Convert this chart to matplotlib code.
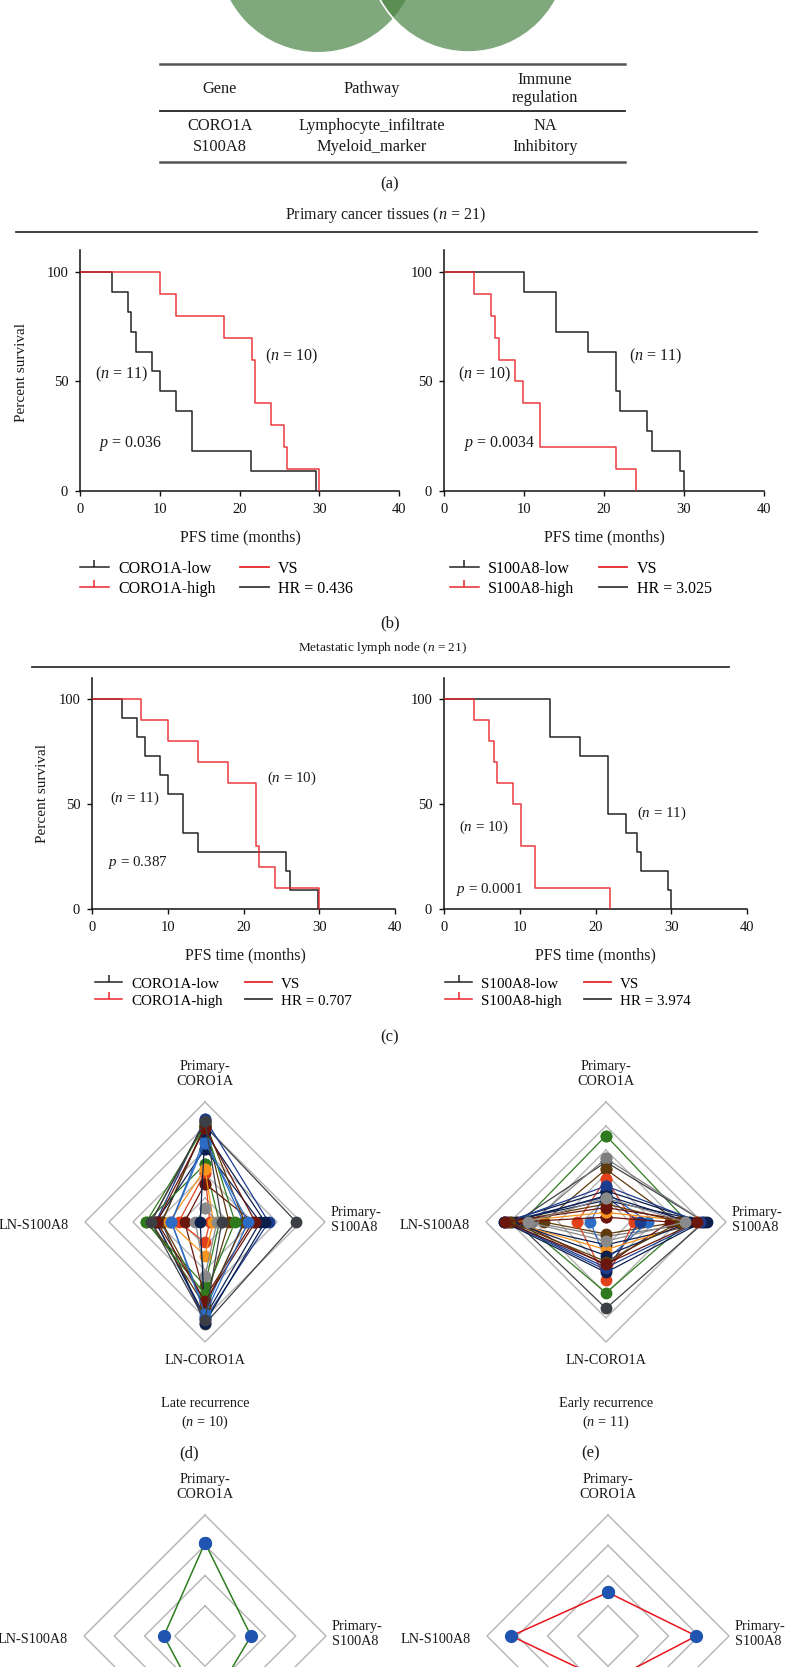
import numpy as np
import matplotlib
matplotlib.use("Agg")
import matplotlib.pyplot as plt
from matplotlib.patches import Circle
from matplotlib.lines import Line2D

plt.rcParams['font.family'] = ['Liberation Serif', 'DejaVu Serif']
plt.rcParams['mathtext.fontset'] = 'custom'
plt.rcParams['mathtext.rm'] = 'Liberation Serif'
plt.rcParams['mathtext.it'] = 'Liberation Serif:italic'

# -----------------------------
# Data
# -----------------------------
# (a) gene table
table_header = ['Gene', 'Pathway', 'Immune\nregulation']
genes = ['CORO1A', 'S100A8']
pathways = ['Lymphocyte_infiltrate', 'Myeloid_marker']
immune = ['NA', 'Inhibitory']

# (b) primary tumour, event times in months (no censoring)
b_coro_low = [4, 6, 6.4, 7, 9, 10, 12, 14, 14, 21.5, 29.6]
b_coro_high = [10, 12, 18, 21.6, 22, 22, 24, 25.6, 26, 30]
b_s100_low = [10, 14, 14, 18, 21.5, 21.5, 22, 25.4, 26, 29.5, 30]
b_s100_high = [3.8, 5.9, 6.4, 6.9, 8.9, 9.9, 12, 12, 21.5, 24]

# (c) lymph node
c_coro_low = [4, 6, 7, 9, 10, 12, 12, 14, 25.6, 26.2, 29.8]
c_coro_high = [6.5, 10, 14, 18, 21.7, 21.7, 21.7, 22.1, 24.2, 30]
c_s100_low = [14, 14, 18, 21.6, 21.6, 21.6, 24, 25.5, 26, 29.6, 30]
c_s100_high = [3.9, 5.9, 6.6, 7, 9.1, 10.1, 10.1, 12, 12, 21.9]

km_pvals = ['0.036', '0.0034', '0.387', '0.0001']
km_hr = ['0.436', '3.025', '0.707', '3.974']

# radar axes: top, right, bottom, left
radar_axes = ['Primary-\nCORO1A', 'Primary-\nS100A8', 'LN-CORO1A', 'LN-S100A8']

# (d) late recurrence, one row per patient
late_vals = [
    [0.80, 0.76, 0.85, 0.36], [0.86, 0.53, 0.81, 0.41], [0.81, 0.20, 0.67, 0.36],
    [0.61, 0.46, 0.79, 0.41], [0.48, 0.12, 0.53, 0.49], [0.41, 0.04, 0.17, 0.22],
    [0.32, 0.40, 0.63, 0.17], [0.44, 0.07, 0.28, 0.30], [0.12, 0.10, 0.45, 0.08],
    [0.70, 0.32, 0.74, 0.28], [0.83, 0.33, 0.70, 0.45], [0.75, 0.50, 0.84, 0.04],
    [0.80, 0.25, 0.60, 0.49], [0.78, 0.42, 0.66, 0.40], [0.66, 0.36, 0.77, 0.28],
    [0.84, 0.14, 0.82, 0.45],
]
late_colors = ['#3c3f45', '#1d3c8f', '#5e3a0c', '#0c1f4d', '#2f7a1f', '#e2421b',
               '#6b160c', '#f7941d', '#8a8a8a', '#2c6cc4', '#5e3a0c', '#0c1f4d',
               '#2f7a1f', '#6b160c', '#2c6cc4', '#3c3f45']

# (e) early recurrence
early_vals = [
    [0.72, 0.68, 0.59, 0.70], [0.50, 0.82, 0.72, 0.75], [0.53, 0.82, 0.12, 0.62],
    [0.44, 0.60, 0.10, 0.52], [0.36, 0.23, 0.48, 0.24], [0.25, 0.35, 0.32, 0.13],
    [0.21, 0.28, 0.40, 0.83], [0.18, 0.84, 0.19, 0.85], [0.04, 0.53, 0.36, 0.74],
    [0.08, 0.75, 0.23, 0.80], [0.26, 0.80, 0.42, 0.85], [0.30, 0.78, 0.38, 0.82],
    [0.22, 0.70, 0.28, 0.78], [0.15, 0.62, 0.33, 0.80], [0.12, 0.76, 0.35, 0.84],
    [0.20, 0.66, 0.16, 0.65],
]
early_colors = ['#2f7a1f', '#3c3f45', '#7d7d7d', '#5e3a0c', '#e2421b', '#2c6cc4',
                '#1d3c8f', '#0c1f4d', '#6b160c', '#f7941d', '#0c1f4d', '#1d3c8f',
                '#0c1f4d', '#5e3a0c', '#6b160c', '#8a8a8a']

# (f), (g) group means
late_mean = [0.77, 0.38, 0.64, 0.34]
early_mean = [0.36, 0.73, 0.38, 0.80]

# -----------------------------
# Figure in pixel units
# -----------------------------
W, H = 787, 1667
RED = '#e8262a'
BLACK = '#232323'
GRID = '#b4b4b4'

fig = plt.figure(figsize=(W / 100, H / 100), dpi=100)


def box(x0, y0, x1, y1):
    return [x0 / W, 1 - y1 / H, (x1 - x0) / W, (y1 - y0) / H]


ov = fig.add_axes([0, 0, 1, 1])
ov.set_xlim(0, W)
ov.set_ylim(H, 0)
ov.axis('off')


def txt(x, y, s, size=11, **kw):
    kw.setdefault('ha', 'center')
    kw.setdefault('va', 'center')
    ov.text(x, y, s, fontsize=size, color='#1a1a1a', **kw)


# ---- (a) Venn fragment + table
left_c = Circle((318, -48), 100, color='#7fa97c', lw=0)
right_c = Circle((468, -48), 100, color='#7fa97c', lw=0)
ov.add_patch(left_c)
ov.add_patch(right_c)
lens = Circle((318, -48), 100, color='#5a8e52', lw=0)
ov.add_patch(lens)
lens.set_clip_path(right_c)
ov.add_patch(Circle((468, -48), 100, fill=False, ec='white', lw=1.2))

ov.plot([160, 625], [64, 64], color='#555555', lw=1.8)
ov.plot([160, 625], [111, 111], color='#222222', lw=1.3)
ov.plot([160, 625], [162, 162], color='#555555', lw=1.8)
col_x = [220, 372, 545]
for cx, head in zip(col_x, table_header):
    txt(cx, 89, head, size=11.8, linespacing=1.2)
for i in range(len(genes)):
    y = 126 + 21 * i
    txt(col_x[0], y, genes[i], size=11.8)
    txt(col_x[1], y, pathways[i], size=11.8)
    txt(col_x[2], y, immune[i], size=11.8)
txt(390, 184, '(a)', size=12)

# ---- section headers
txt(385, 215, r'Primary cancer tissues ($n$ = 21)', size=11.5)
ov.plot([16, 757], [232, 232], color='#333333', lw=1.3)
txt(383, 648, r'Metastatic lymph node ($n$ = 21)', size=9.5)
ov.plot([32, 729], [667, 667], color='#333333', lw=1.3)


# ---- Kaplan-Meier panels
def km_steps(times, n):
    uniq, counts = np.unique(np.asarray(times, float), return_counts=True)
    surv = 100 * (1 - np.cumsum(counts) / n)
    return np.concatenate([[0], uniq]), np.concatenate([[100], surv])


def km_panel(rect, low, high):
    ax = fig.add_axes(box(*rect))
    x, y = km_steps(low, len(low))
    ax.step(x, y, where='post', color=BLACK, lw=1.1, zorder=3)
    x, y = km_steps(high, len(high))
    ax.step(x, y, where='post', color=RED, lw=1.1, alpha=0.9, zorder=4)
    ax.set_xlim(0, 40)
    ax.set_ylim(0, 110)
    ax.set_xticks([0, 10, 20, 30, 40])
    ax.set_yticks([0, 50, 100])
    ax.spines['top'].set_visible(False)
    ax.spines['right'].set_visible(False)
    for s in ('left', 'bottom'):
        ax.spines[s].set_linewidth(1.1)
        ax.spines[s].set_color('#111111')
    ax.tick_params(direction='out', length=3.5, width=1, pad=5, labelsize=10.5,
                   colors='#111111')
    ax.set_facecolor('none')
    return ax


def km_legend(ax, gene, hr, x, y, size):
    handles = [Line2D([], [], color=BLACK, lw=1.1, marker=2, ms=5, mew=1.1),
               Line2D([], [], color=RED, lw=1.1, marker=2, ms=5, mew=1.1),
               Line2D([], [], color=RED, lw=1.3),
               Line2D([], [], color='#3a3a3a', lw=1.3)]
    labels = [f'{gene}-low', f'{gene}-high', 'VS', f'HR = {hr}']
    ax.legend(handles, labels, ncol=2, loc='upper left',
              bbox_to_anchor=(x / W, 1 - y / H), bbox_transform=fig.transFigure,
              frameon=False, fontsize=size, handlelength=1.8, handletextpad=0.6,
              columnspacing=1.5, labelspacing=0.25, borderpad=0, borderaxespad=0)


ax_b1 = km_panel((80, 250, 399, 491), b_coro_low, b_coro_high)
ax_b2 = km_panel((444, 250, 764, 491), b_s100_low, b_s100_high)
ax_c1 = km_panel((92, 678, 395, 909), c_coro_low, c_coro_high)
ax_c2 = km_panel((444, 678, 747, 909), c_s100_low, c_s100_high)

km_legend(ax_b1, 'CORO1A', km_hr[0], 80, 561, 11.5)
km_legend(ax_b2, 'S100A8', km_hr[1], 450, 561, 11.5)
km_legend(ax_c1, 'CORO1A', km_hr[2], 95, 977, 10.8)
km_legend(ax_c2, 'S100A8', km_hr[3], 445, 977, 10.8)

txt(22, 372, 'Percent survival', size=11, rotation=90)
txt(42, 793, 'Percent survival', size=11, rotation=90)
for cx, cy in [(240, 537), (604, 537), (245, 955), (595, 955)]:
    txt(cx, cy, 'PFS time (months)', size=11.5)

txt(121, 374, r'($n$ = 11)', size=11.5)
txt(291, 356, r'($n$ = 10)', size=11.5)
txt(131, 443, rf'$p$ = {km_pvals[0]}', size=11.5)
txt(655, 356, r'($n$ = 11)', size=11.5)
txt(484, 374, r'($n$ = 10)', size=11.5)
txt(500, 443, rf'$p$ = {km_pvals[1]}', size=11.5)
txt(292, 778, r'($n$ = 10)', size=10.8)
txt(135, 798, r'($n$ = 11)', size=10.8)
txt(138, 862, rf'$p$ = {km_pvals[2]}', size=10.8)
txt(662, 813, r'($n$ = 11)', size=10.8)
txt(484, 827, r'($n$ = 10)', size=10.8)
txt(489, 889, rf'$p$ = {km_pvals[3]}', size=10.8)

txt(390, 623, '(b)', size=12)
txt(390, 1037, '(c)', size=12)

# ---- radar charts
THETA = np.deg2rad([0, 90, 180, 270, 0])


def radar(cx, cy, R, rings):
    ax = fig.add_axes(box(cx - R, cy - R, cx + R, cy + R), projection='polar')
    ax.set_theta_zero_location('N')
    ax.set_theta_direction(-1)
    ax.set_ylim(0, 1)
    for r in rings:
        ax.plot(THETA, [r] * 5, color=GRID, lw=1.0, zorder=1, clip_on=False)
    ax.set_xticks([])
    ax.set_yticks([])
    ax.grid(False)
    ax.spines['polar'].set_visible(False)
    ax.set_facecolor('none')
    return ax


def close(v):
    return list(v) + [v[0]]


def radar_labels(cx, cy, R, bottom=True):
    txt(cx, cy - R - 28, radar_axes[0], size=10.3, linespacing=1.25)
    txt(cx + R + 6, cy - 2, radar_axes[1], size=10.3, ha='left', linespacing=1.25)
    if bottom:
        txt(cx, cy + R + 18, radar_axes[2], size=10.3)
    txt(cx - R - 16, cy + 3, radar_axes[3], size=10.3, ha='right')


ring5 = [0.2, 0.4, 0.6, 0.8, 1.0]
ring4 = [0.25, 0.5, 0.75, 1.0]

ax_d = radar(205, 1222, 120, ring5)
for vals, c in zip(late_vals, late_colors):
    ax_d.plot(THETA, close(vals), color=c, lw=0.9, marker='o', ms=7.5,
              clip_on=False, zorder=3)
ax_e = radar(606, 1222, 120, ring5)
for vals, c in zip(early_vals, early_colors):
    ax_e.plot(THETA, close(vals), color=c, lw=0.9, marker='o', ms=7.5,
              clip_on=False, zorder=3)
radar_labels(205, 1222, 120)
radar_labels(606, 1222, 120)
txt(205, 1414, 'Late recurrence\n' + r'($n$ = 10)', size=10.3, linespacing=1.3)
txt(606, 1414, 'Early recurrence\n' + r'($n$ = 11)', size=10.3, linespacing=1.3)
txt(189, 1453, '(d)', size=12)
txt(591, 1453, '(e)', size=12)

# bottom pair is cropped at the figure edge, as in the source
ax_f = radar(205, 1636, 121, ring4)
ax_f.plot(THETA, close(late_mean), color='#2e7d1f', lw=1.1, marker='o', ms=8.5,
          mfc='#1f55b0', mec='#1f55b0', clip_on=False, zorder=3)
ax_g = radar(608, 1636, 121, ring4)
ax_g.plot(THETA, close(early_mean), color='#e8141c', lw=1.1, marker='o', ms=8.5,
          mfc='#1f55b0', mec='#1f55b0', clip_on=False, zorder=3)
radar_labels(205, 1636, 121, bottom=False)
radar_labels(608, 1636, 121, bottom=False)

fig.savefig('out.png', dpi=100)
